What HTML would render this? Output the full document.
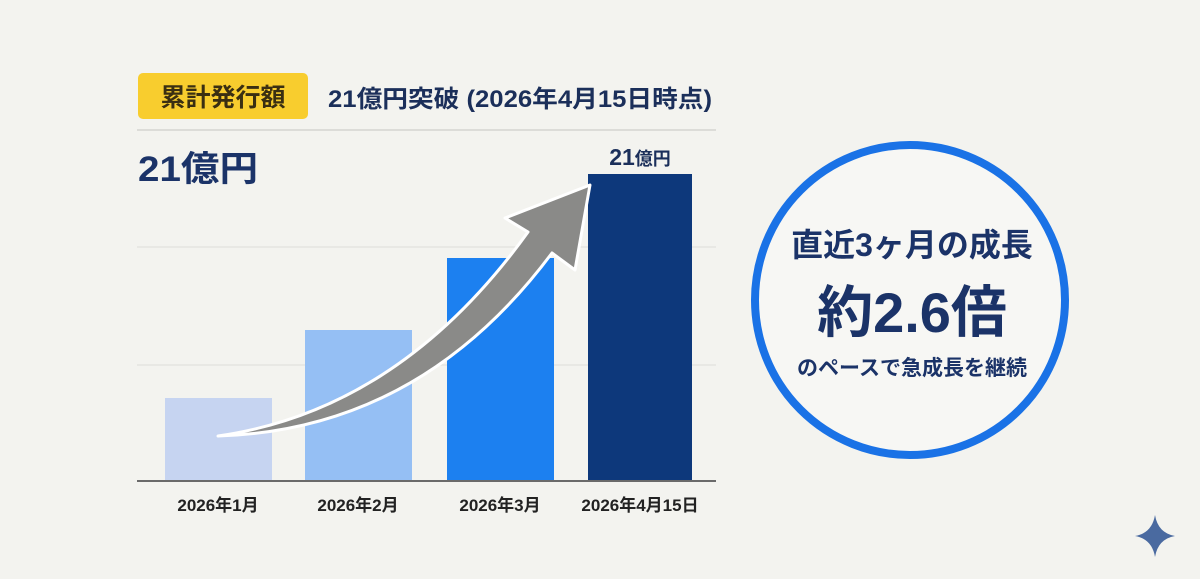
<!DOCTYPE html>
<html><head><meta charset="utf-8"><style>
body{margin:0;width:1200px;height:579px;background:#f3f3ef;overflow:hidden;font-family:"Liberation Sans","Noto Sans CJK JP",sans-serif;}
</style></head><body>
<svg width="1200" height="579" xmlns="http://www.w3.org/2000/svg" style="position:absolute;left:0;top:0">
<rect x="138" y="73" width="170" height="46" rx="5" fill="#f8cd2e"/>
<text x="223" y="106" text-anchor="middle" font-size="25" font-weight="bold" fill="#3a2f12" font-family="Liberation Sans,Noto Sans CJK JP,sans-serif">累計発行額</text>
<text x="328" y="107" font-size="24" font-weight="bold" fill="#1b2f5a" textLength="384" lengthAdjust="spacingAndGlyphs" font-family="Liberation Sans,Noto Sans CJK JP,sans-serif">21億円突破 (2026年4月15日時点)</text>
<line x1="137" y1="130" x2="716" y2="130" stroke="#dcdcd8" stroke-width="2"/>
<line x1="137" y1="247" x2="716" y2="247" stroke="#e4e4e0" stroke-width="1.5"/>
<line x1="137" y1="365" x2="716" y2="365" stroke="#e4e4e0" stroke-width="1.5"/>
<text x="138" y="181" font-size="35" font-weight="bold" fill="#1b3368" textLength="120" lengthAdjust="spacingAndGlyphs" font-family="Liberation Sans,Noto Sans CJK JP,sans-serif">21億円</text>
<rect x="165" y="398" width="107" height="83" fill="#c6d4f1"/>
<rect x="305" y="330" width="107" height="151" fill="#95bff4"/>
<rect x="447" y="258" width="107" height="223" fill="#1c80f0"/>
<rect x="588" y="174" width="104" height="307" fill="#0d387b"/>
<line x1="137" y1="481" x2="716" y2="481" stroke="#6a6a6a" stroke-width="2"/>
<text x="640" y="165" text-anchor="middle" font-size="23" font-weight="bold" fill="#1b2f5a" font-family="Liberation Sans,Noto Sans CJK JP,sans-serif">21<tspan font-size="18">億円</tspan></text>
<path d="M218 436 Q400 410 528 232 L505 218 L590 185 L575 270 L552 253 Q420 430 218 436 Z" fill="#8a8a88" stroke="#ffffff" stroke-width="3" stroke-linejoin="round"/>
<g font-size="17" fill="#222" text-anchor="middle" font-family="Liberation Sans,Noto Sans CJK JP,sans-serif" font-weight="bold">
<text x="218" y="511">2026年1月</text><text x="358" y="511">2026年2月</text><text x="500" y="511">2026年3月</text><text x="640" y="511">2026年4月15日</text></g>
<circle cx="910" cy="300" r="155" fill="#f7f7f4" stroke="#1a72e6" stroke-width="8"/>
<g fill="#1b3368" text-anchor="middle" font-weight="bold" font-family="Liberation Sans,Noto Sans CJK JP,sans-serif">
<text x="912" y="256" font-size="32">直近3ヶ月の成長</text>
<text x="912" y="332" font-size="56">約2.6倍</text>
<text x="912" y="375" font-size="21">のペースで急成長を継続</text></g>
<path d="M1155 515 Q1158 533 1175 536 Q1158 539 1155 557 Q1152 539 1135 536 Q1152 533 1155 515 Z" fill="#4a6aa0"/>
</svg>
</body></html>
